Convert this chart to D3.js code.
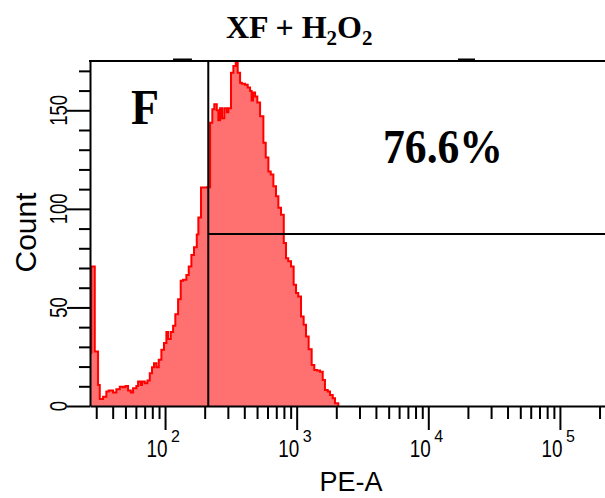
<!DOCTYPE html>
<html>
<head>
<meta charset="utf-8">
<script src="https://cdn.jsdelivr.net/npm/d3@7"></script>
<style>
  html, body { margin: 0; padding: 0; background: #fff; }
  svg { display: block; }
</style>
</head>
<body>
<svg id="chart" width="605" height="498"></svg>
<script>
// ---------- DATA ----------
// histogram bin left edges, log10(PE-A)
const binLog = [
  1.40, 1.440, 1.466, 1.491, 1.504, 1.529, 1.554, 1.572, 1.605, 1.630,
  1.656, 1.681, 1.699, 1.719, 1.740, 1.757, 1.782, 1.795, 1.815, 1.825,
  1.846, 1.866, 1.884, 1.901, 1.916, 1.934, 1.952, 1.972, 1.992, 2.010,
  2.023, 2.043, 2.061, 2.078, 2.099, 2.119, 2.137, 2.162, 2.180, 2.200,
  2.220, 2.241, 2.253, 2.273, 2.317, 2.342, 2.359, 2.374, 2.393, 2.405,
  2.418, 2.433, 2.450, 2.469, 2.481, 2.501, 2.519, 2.537, 2.552, 2.570,
  2.583, 2.608, 2.628, 2.646, 2.658, 2.668, 2.684, 2.701, 2.722, 2.747,
  2.765, 2.785, 2.803, 2.823, 2.843, 2.861, 2.881, 2.902, 2.919, 2.936,
  2.957, 2.977, 2.995, 3.012, 3.033, 3.053, 3.071, 3.091, 3.114, 3.134,
  3.154, 3.177, 3.198, 3.215, 3.236, 3.253, 3.274, 3.291, 3.316
];
// events per bin
const binCount = [
  27, 70.7, 27.6, 10.7, 3.6, 4.7, 7.3, 7.8, 6.8, 8.5,
  9.8, 9.5, 10.2, 7.8, 6.8, 9, 10.2, 12.4, 10.7, 12.4,
  11.5, 12.9, 16.6, 19.7, 21.7, 19.7, 23.4, 28.5, 31.9, 37.5,
  34, 37.5, 40.7, 46.6, 54.2, 63.5, 64, 66.4, 70.8, 76.6,
  80.5, 87, 95.6, 110.8, 111, 143.7, 150.5, 153, 150, 145,
  151, 146, 151, 149, 151, 169, 172.5, 174.7, 169, 164,
  163.5, 163, 161.5, 159.8, 155, 159, 157, 153.9, 147, 133.5,
  126, 119, 117.4, 111.5, 106.4, 100.5, 97, 82.7, 75, 73.4,
  70.8, 61.5, 57.3, 55.6, 45.4, 41.2, 35.2, 28.8, 20.8, 18.3,
  18, 17.4, 13.2, 8.1, 7.3, 5.6, 3.9, 1.4, 0
];

const xDomain = [26.9, 262144];
const yDomain = [0, 175];
const yTicks = [0, 10, 20, 30, 40, 50, 60, 70, 80, 90, 100, 110, 120, 130, 140, 150, 160, 170];
const yLabels = [0, 50, 100, 150];
const xMajor = [100, 1000, 10000, 100000];

const gateX = 213;        // vertical gate, PE-A
const gateY = 87.2;       // horizontal gate, count
const topMarks = [[115, 160], [16800, 22640]];

const titleParts = [['XF + H', false], ['2', true], ['O', false], ['2', true]];
const panelLetter = 'F';
const percentText = '76.6%';

(function drawChart() {
  // ---------- LAYOUT ----------
  const svg = d3.select('#chart');
  const pLeft = 90, pRight = 615, pTop = 61, pBottom = 406;

  const x = d3.scaleLog().domain(xDomain).range([pLeft, pRight]);
  const y = d3.scaleLinear().domain(yDomain).range([pBottom, pTop]);

  svg.append('clipPath').attr('id', 'plotclip')
    .append('rect')
    .attr('x', pLeft).attr('y', pTop - 1)
    .attr('width', pRight - pLeft).attr('height', pBottom - pTop + 1);

  // ---------- HISTOGRAM ----------
  const bins = binLog.map((l, i) => ({ v: Math.pow(10, l), c: binCount[i] }));

  const plot = svg.append('g').attr('clip-path', 'url(#plotclip)');

  plot.append('path')
    .datum(bins)
    .attr('fill', '#ff7070')
    .attr('d', d3.area()
      .curve(d3.curveStepAfter)
      .x((d) => x(d.v))
      .y0(y(0))
      .y1((d) => y(d.c)));

  plot.append('path')
    .datum(bins)
    .attr('fill', 'none')
    .attr('stroke', '#ff0000')
    .attr('stroke-width', 2)
    .attr('d', d3.line()
      .curve(d3.curveStepAfter)
      .x((d) => x(d.v))
      .y((d) => y(d.c)));

  // ---------- GATES ----------
  svg.append('line')
    .attr('x1', x(gateX)).attr('x2', x(gateX))
    .attr('y1', pTop).attr('y2', pBottom)
    .attr('stroke', '#000').attr('stroke-width', 2);

  svg.append('line')
    .attr('x1', x(gateX)).attr('x2', pRight)
    .attr('y1', y(gateY)).attr('y2', y(gateY))
    .attr('stroke', '#000').attr('stroke-width', 2);

  // ---------- FRAME ----------
  svg.append('line')
    .attr('x1', pLeft - 1).attr('x2', pRight)
    .attr('y1', pTop).attr('y2', pTop)
    .attr('stroke', '#000').attr('stroke-width', 2);

  svg.selectAll('rect.mark')
    .data(topMarks)
    .join('rect')
    .attr('class', 'mark')
    .attr('x', (d) => x(d[0]))
    .attr('width', (d) => x(d[1]) - x(d[0]))
    .attr('y', pTop - 2.5)
    .attr('height', 3.5)
    .attr('fill', '#000');

  // ---------- AXES ----------
  const xTicks = x.ticks().filter((t) => t >= 30);
  const isMajor = (t) => xMajor.includes(t);

  const gx = svg.append('g')
    .attr('transform', `translate(0,${pBottom})`)
    .call(d3.axisBottom(x).tickValues(xTicks).tickSize(13).tickSizeOuter(0).tickFormat(''));
  gx.select('.domain').attr('stroke-width', 2);
  gx.selectAll('.tick line')
    .attr('stroke-width', 2)
    .attr('y2', (d) => (isMajor(d) ? 24 : 13));

  const gy = svg.append('g')
    .attr('transform', `translate(${pLeft},0)`)
    .call(d3.axisLeft(y).tickValues(yTicks).tickSize(11).tickSizeOuter(0).tickFormat(''));
  gy.select('.domain').attr('stroke-width', 2);
  gy.selectAll('.tick line')
    .attr('stroke-width', 2)
    .attr('x2', (d) => (d % 50 === 0 ? -23 : -11));

  const tickFont = '"Liberation Sans", Arial, sans-serif';

  // x tick labels: 10 with exponent
  const xl = svg.append('g').attr('font-family', tickFont).attr('fill', '#000');
  xMajor.forEach((v) => {
    const tx = x(v);
    xl.append('text')
      .attr('x', tx - 18.5).attr('y', 457)
      .attr('font-size', 23)
      .attr('textLength', 21).attr('lengthAdjust', 'spacingAndGlyphs')
      .text('10');
    xl.append('text')
      .attr('x', tx + 6).attr('y', 442)
      .attr('font-size', 16)
      .text(String(Math.round(Math.log10(v))));
  });

  // y tick labels, rotated
  svg.append('g')
    .attr('font-family', tickFont)
    .selectAll('text')
    .data(yLabels)
    .join('text')
    .attr('transform', (d) => `translate(66.5,${y(d)}) rotate(-90)`)
    .attr('text-anchor', 'middle')
    .attr('font-size', 23)
    .attr('textLength', (d) => String(d).length * 10.3)
    .attr('lengthAdjust', 'spacingAndGlyphs')
    .text((d) => d);

  // axis titles
  svg.append('text')
    .attr('x', 351).attr('y', 491)
    .attr('text-anchor', 'middle')
    .attr('font-family', tickFont)
    .attr('font-size', 27)
    .text('PE-A');

  svg.append('text')
    .attr('transform', 'translate(36,232.5) rotate(-90)')
    .attr('text-anchor', 'middle')
    .attr('font-family', tickFont)
    .attr('font-size', 30)
    .text('Count');

  // ---------- ANNOTATIONS ----------
  const serif = '"Liberation Serif", "Times New Roman", serif';

  const title = svg.append('text')
    .attr('x', 226).attr('y', 38)
    .attr('font-family', serif)
    .attr('font-weight', 'bold')
    .attr('font-size', 32);
  titleParts.forEach(([t, sub], i) => {
    const prevSub = i > 0 && titleParts[i - 1][1];
    title.append('tspan')
      .attr('font-size', sub ? 21 : 32)
      .attr('dy', sub ? 7 : prevSub ? -7 : 0)
      .text(t);
  });

  svg.append('text')
    .attr('x', 131).attr('y', 124)
    .attr('font-family', serif)
    .attr('font-weight', 'bold')
    .attr('font-size', 50)
    .attr('textLength', 28).attr('lengthAdjust', 'spacingAndGlyphs')
    .text(panelLetter);

  svg.append('text')
    .attr('x', 383).attr('y', 163)
    .attr('font-family', serif)
    .attr('font-weight', 'bold')
    .attr('font-size', 48)
    .attr('textLength', 120).attr('lengthAdjust', 'spacingAndGlyphs')
    .text(percentText);
})();
</script>
</body>
</html>
